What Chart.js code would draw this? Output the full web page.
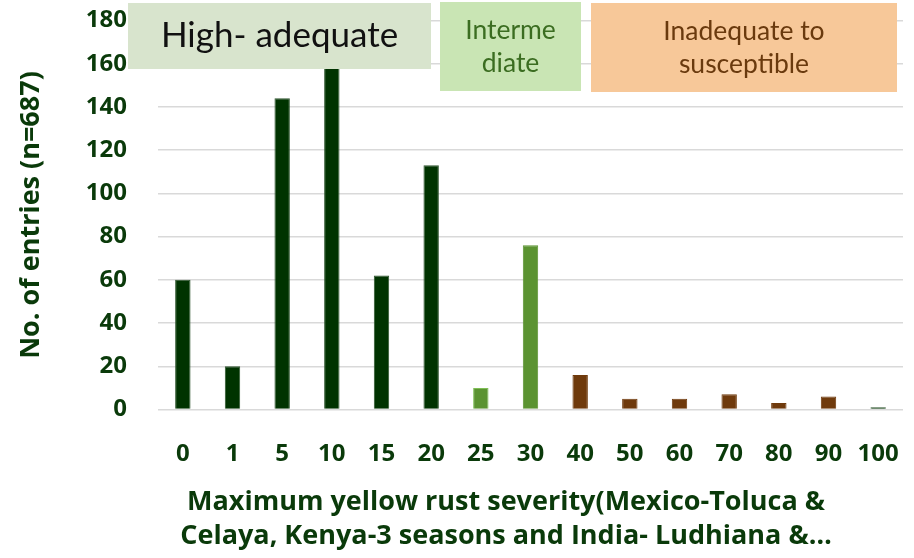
<!DOCTYPE html>
<html>
<head>
<meta charset="utf-8">
<script src="https://cdn.jsdelivr.net/npm/chart.js@4.4.1/dist/chart.umd.min.js"></script>
<style>
  html, body { margin: 0; padding: 0; background: #ffffff; }
  #wrap { width: 914px; height: 558px; position: relative; }
</style>
</head>
<body>
<div id="wrap"><canvas id="chart" width="914" height="558"></canvas></div>
<script>
// Maximum yellow rust severity classes (x categories)
const severityClasses = ['0', '1', '5', '10', '15', '20', '25', '30', '40', '50', '60', '70', '80', '90', '100'];
// Number of entries in each severity class (n = 687)
const entryCounts = [60, 20, 144, 159, 62, 113, 10, 76, 16, 5, 5, 7, 3, 6, 1];
// Resistance rating group of each class
const ratingGroups = ['high', 'high', 'high', 'high', 'high', 'high', 'mid', 'mid',
                      'low', 'low', 'low', 'low', 'low', 'low', 'high'];
// Y axis ticks
const yTicks = [0, 20, 40, 60, 80, 100, 120, 140, 160, 180];
// Text of the rating boxes along the top
const ratingLabels = {
  high: ['High- adequate'],
  mid: ['Interme', 'diate'],
  low: ['Inadequate to', 'susceptible']
};
const yTitle = 'No. of entries (n=687)';
const xTitleLines = ['Maximum yellow rust severity(Mexico-Toluca &', 'Celaya, Kenya-3 seasons and India- Ludhiana &\u2026'];

const AXIS_GREEN = '#0a3a0a';
const groupFill = { high: '#003300', mid: '#5b9331', low: '#6f3a0c' };
const groupEdge = { high: '#2e552e', mid: '#5b9331', low: '#6f3a0c' };

const fills = ratingGroups.map(g => groupFill[g]);
const edges = ratingGroups.map((g, i) => (g === 'mid' && entryCounts[i] < 20) ? '#7fbf55' : groupEdge[g]);

// Rating boxes drawn over the plot
const boxes = [
  { key: 'high', x0: 128, x1: 431, y0: 3, y1: 69, fill: '#d8e4cd', color: '#111111', font: '400 35px Lato', lineGap: 33 },
  { key: 'mid', x0: 440, x1: 581, y0: 2, y1: 91, fill: '#c9e5b4', color: '#3b6d21', font: '400 26.5px Lato', lineGap: 33 },
  { key: 'low', x0: 591, x1: 897, y0: 3, y1: 92, fill: '#f7c899', color: '#6a3a0e', font: '400 26.5px Lato', lineGap: 33 }
];

const ratingBoxes = {
  id: 'ratingBoxes',
  afterDatasetsDraw(chart) {
    const ctx = chart.ctx;
    ctx.save();
    boxes.forEach(b => {
      ctx.fillStyle = b.fill;
      ctx.fillRect(b.x0, b.y0, b.x1 - b.x0, b.y1 - b.y0);
      const lines = ratingLabels[b.key];
      ctx.fillStyle = b.color;
      ctx.font = b.font;
      ctx.textAlign = 'center';
      ctx.textBaseline = 'middle';
      const cx = (b.x0 + b.x1) / 2;
      const cy = (b.y0 + b.y1) / 2;
      const start = cy - (lines.length - 1) * b.lineGap / 2;
      lines.forEach((t, i) => ctx.fillText(t, cx, start + i * b.lineGap));
    });
    ctx.restore();
  }
};

// Two-line category axis title
const xAxisTitle = {
  id: 'xAxisTitle',
  afterDraw(chart) {
    const ctx = chart.ctx;
    ctx.save();
    ctx.fillStyle = AXIS_GREEN;
    ctx.font = 'bold 27px "Open Sans"';
    ctx.textAlign = 'center';
    ctx.textBaseline = 'alphabetic';
    xTitleLines.forEach((t, i) => ctx.fillText(t, 506, 510 + i * 34));
    ctx.restore();
  }
};

const tickFont = { family: '"Open Sans"', weight: 'bold', size: 24 };

new Chart(document.getElementById('chart'), {
  type: 'bar',
  data: {
    labels: severityClasses,
    datasets: [{
      data: entryCounts,
      backgroundColor: fills,
      borderColor: edges,
      borderWidth: 1,
      barPercentage: 0.62,
      categoryPercentage: 0.5
    }]
  },
  options: {
    responsive: false,
    animation: false,
    layout: { padding: { top: 20.5, right: 11, bottom: 0, left: 0 } },
    plugins: { legend: { display: false }, tooltip: { enabled: false } },
    scales: {
      x: {
        grid: { display: false },
        border: { display: false },
        ticks: { color: AXIS_GREEN, font: tickFont, padding: 22, maxRotation: 0, autoSkip: false },
        afterFit(scale) {
          scale.height = 148.5;
          scale.paddingLeft = 0;
          scale.paddingRight = 0;
        }
      },
      y: {
        min: 0, max: 180,
        afterBuildTicks(scale) { scale.ticks = yTicks.map(v => ({ value: v })); },
        grid: { color: '#d9d9d9', lineWidth: 1.5, drawTicks: false },
        border: { display: false },
        ticks: { color: AXIS_GREEN, font: tickFont, padding: 31 },
        title: { display: true, text: yTitle, color: AXIS_GREEN, font: { family: '"Open Sans"', weight: 'bold', size: 27 }, padding: { top: 15, bottom: 0 } },
        afterFit(scale) {
          scale.width = 158;
          scale.paddingTop = 0;
          scale.paddingBottom = 0;
        }
      }
    }
  },
  plugins: [ratingBoxes, xAxisTitle]
});
</script>
</body>
</html>
